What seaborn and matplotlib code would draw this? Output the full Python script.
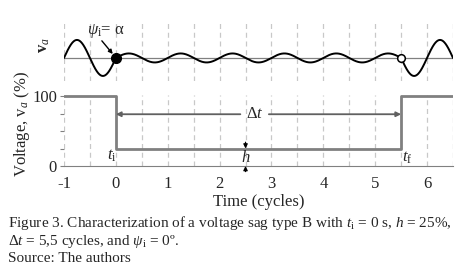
import matplotlib
matplotlib.use("Agg")
import matplotlib.pyplot as plt
import numpy as np
import pandas as pd
import seaborn as sns

# sag parameters (type B sag, phase a)
sag_start = 0.0      # t_i (cycles)
sag_end = 5.5        # t_f (cycles)
sag_depth = 25       # h (%)
phase_jump = 0.0     # psi_i

# rms voltage profile (%)
step_time = [-1, 0, 0, 5.5, 5.5, 6.5]
step_volt = [100, 100, 25, 25, 100, 100]

x_ticks = [-1, 0, 1, 2, 3, 4, 5, 6]
caption = [
    r"Figure 3. Characterization of a voltage sag type B with $t_\mathrm{i}$ = 0 s, $h$ = 25%,",
    r"$\Delta t$ = 5,5 cycles, and $\psi_\mathrm{i}$ = 0º.",
    "Source: The authors",
]

sns.set_style("white")
plt.rcParams["font.family"] = ["Liberation Serif", "DejaVu Serif"]
plt.rcParams["mathtext.fontset"] = "custom"
plt.rcParams["mathtext.rm"] = "Liberation Serif"
plt.rcParams["mathtext.it"] = "Liberation Serif:italic"
plt.rcParams["mathtext.bf"] = "Liberation Serif:bold"

# instantaneous waveform of phase a
t = np.linspace(-1, 6.5, 1500)
amp = np.where((t >= sag_start) & (t < sag_end), sag_depth / 100, 1.0)
wave = pd.DataFrame({"t": t, "v": amp * np.sin(2 * np.pi * t + phase_jump)})
step = pd.DataFrame({"t": step_time, "v": step_volt})

W, H = 476, 275
fig = plt.figure(figsize=(W / 100, H / 100), dpi=100)
left, right = 64 / W, 453 / W
ax_top = fig.add_axes([left, 1 - 81 / H, right - left, 58 / H])
ax_bot = fig.add_axes([left, 1 - 166 / H, right - left, 71 / H])

grid_x = np.arange(-1, 6.51, 0.5)
for ax in (ax_top, ax_bot):
    ax.set_xlim(-1, 6.5)
    for g in grid_x:
        ax.axvline(g, color="#c8c8c8", lw=0.9, ls=(0, (4, 3)), zorder=0)
    for s in ax.spines.values():
        s.set_visible(False)

# top panel: waveform
ax_top.set_ylim(-1.28, 1.94)
ax_top.axhline(0, color="#808080", lw=0.9, zorder=1)
sns.lineplot(data=wave, x="t", y="v", ax=ax_top, color="black", lw=1.4, zorder=2)
ax_top.set_ylim(-1.28, 1.94)
ax_top.plot([sag_start], [0], "o", ms=7, color="black", zorder=3)
ax_top.plot([sag_end], [0], "o", ms=5.5, mfc="white", mec="black", mew=1.1, zorder=3)
ax_top.text(-0.19, 1.5, r"$\psi_\mathrm{i}$= α", ha="center", va="center", fontsize=12)
ax_top.annotate("", xy=(-0.06, 0.22), xytext=(-0.27, 0.95),
                arrowprops=dict(arrowstyle="-|>", color="black", lw=1.0,
                                mutation_scale=6, shrinkA=0, shrinkB=0))
ax_top.set_xticks([])
ax_top.set_yticks([])
ax_top.set_xlabel("")
ax_top.set_ylabel("")
fig.text(44 / W, 1 - 45 / H, r"$\mathbf{v}_a$", rotation=90, ha="center", va="center", fontsize=12)

# bottom panel: rms profile
ax_bot.set_ylim(0, 101.5)
sns.lineplot(data=step, x="t", y="v", ax=ax_bot, color="#808080", lw=2.0,
             sort=False, estimator=None, zorder=2)
ax_bot.set_ylim(0, 101.5)
ax_bot.spines["bottom"].set_visible(True)
ax_bot.spines["bottom"].set_color("#808080")
ax_bot.set_xticks(x_ticks)
ax_bot.set_xticklabels([str(v) for v in x_ticks])
ax_bot.set_yticks([0, 25, 50, 75, 100])
ax_bot.set_yticklabels(["0", "", "", "", "100"])
ax_bot.tick_params(axis="x", length=0, pad=7, labelsize=12)
ax_bot.tick_params(axis="y", length=3, color="#808080", pad=2, labelsize=12, left=True)
ax_bot.set_xlabel("Time (cycles)", fontsize=12, labelpad=2)
ax_bot.set_ylabel("")
fig.text(22 / W, 1 - 124 / H, r"Voltage, $\mathrm{v}_a$ (%)", rotation=90,
         ha="center", va="center", fontsize=12)

# delta t arrow
arrow = dict(arrowstyle="-|>", color="#606060", lw=1.3, mutation_scale=7, shrinkA=0, shrinkB=0)
ax_bot.annotate("", xy=(sag_start, 74), xytext=(2.4, 74), arrowprops=arrow)
ax_bot.annotate("", xy=(sag_end, 74), xytext=(2.95, 74), arrowprops=arrow)
ax_bot.text(2.67, 74, r"$\Delta t$", ha="center", va="center", fontsize=12)

# h arrows
arrow_h = dict(arrowstyle="-|>", color="black", lw=0.9, mutation_scale=6, shrinkA=0, shrinkB=0)
ax_bot.annotate("", xy=(2.5, sag_depth), xytext=(2.5, 34), arrowprops=arrow_h)
ax_bot.annotate("", xy=(2.5, 0), xytext=(2.5, -8), arrowprops=arrow_h, annotation_clip=False)
ax_bot.text(2.5, 12, r"$h$", ha="center", va="center", fontsize=12)
ax_bot.text(-0.08, 15, r"$t_\mathrm{i}$", ha="center", va="center", fontsize=12)
ax_bot.text(5.62, 12, r"$t_\mathrm{f}$", ha="center", va="center", fontsize=12)

# caption
for i, line in enumerate(caption):
    fig.text(8 / W, 1 - (223 + 18 * i) / H, line, ha="left", va="center", fontsize=11)

fig.savefig("out.png", dpi=100)
